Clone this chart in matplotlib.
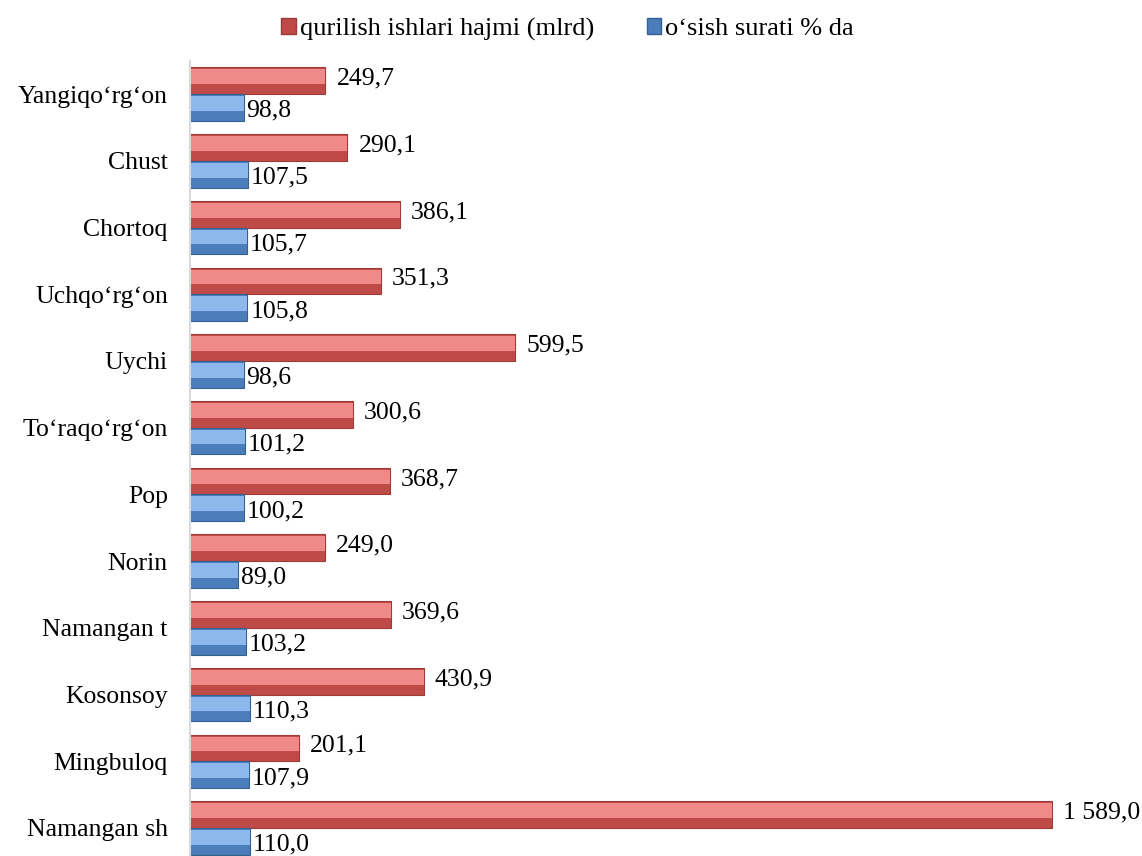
import matplotlib.pyplot as plt
from matplotlib.patches import Patch

plt.rcParams['font.family'] = ['Liberation Serif', 'DejaVu Serif']

# bottom to top, as drawn
districts = ["Namangan sh", "Mingbuloq", "Kosonsoy", "Namangan t", "Norin", "Pop",
             "To\u2018raqo\u2018rg\u2018on", "Uychi", "Uchqo\u2018rg\u2018on", "Chortoq",
             "Chust", "Yangiqo\u2018rg\u2018on"]
volume = [1589.0, 201.1, 430.9, 369.6, 249.0, 368.7, 300.6, 599.5, 351.3, 386.1, 290.1, 249.7]
growth = [110.0, 107.9, 110.3, 103.2, 89.0, 100.2, 101.2, 98.6, 105.8, 105.7, 107.5, 98.8]

red_dark, red_light = "#BE4B48", "#F08A88"
blue_dark, blue_light = "#4A7DBA", "#8DB8EC"
FS = 18.5


def fmt(v):
    s = f"{v:,.1f}"
    return s.replace(",", " ").replace(".", ",")


fig = plt.figure(figsize=(11.42, 8.56), dpi=100)
ax = fig.add_axes([0.1664, 0.0, 0.81, 0.929])

y = list(range(len(districts)))
h = 0.4
y_red = [i + 0.2 for i in y]
y_blue = [i - 0.2 for i in y]

# base bars + lighter upper part for a bevel feel
ax.barh(y_red, volume, height=h, color=red_dark, edgecolor="#9E3A38", linewidth=0.8)
ax.barh([v + 0.06 for v in y_red], volume, height=h * 0.55, color=red_light, linewidth=0)
ax.barh(y_blue, growth, height=h, color=blue_dark, edgecolor="#35608F", linewidth=0.8)
ax.barh([v + 0.06 for v in y_blue], growth, height=h * 0.55, color=blue_light, linewidth=0)

for yr, yb, v, g in zip(y_red, y_blue, volume, growth):
    ax.annotate(fmt(v), (v, yr), xytext=(8, 1.5), textcoords="offset points",
                va="center", ha="left", fontsize=FS)
    ax.annotate(fmt(g), (g, yb), xytext=(2, -2.5), textcoords="offset points",
                va="center", ha="left", fontsize=FS)

ax.set_yticks(y)
ax.set_yticklabels(districts, fontsize=FS)
ax.tick_params(axis="y", length=0, pad=16)
ax.set_xticks([])
ax.set_xlim(0, 1705)
ax.set_ylim(-0.42, 11.5)
for s in ["top", "right", "bottom"]:
    ax.spines[s].set_visible(False)
ax.spines["left"].set_color("#D9D9D9")
ax.spines["left"].set_linewidth(1.5)

handles = [Patch(facecolor=red_dark, edgecolor="#9E3A38"),
           Patch(facecolor=blue_dark, edgecolor="#35608F")]
fig.legend(handles, ["qurilish ishlari hajmi (mlrd)", "o\u2018sish surati % da"],
           loc="center", bbox_to_anchor=(0.497, 0.966), ncol=2, frameon=False,
           fontsize=19, handlelength=0.55, handleheight=0.55, handletextpad=0.15,
           columnspacing=2.0)

fig.savefig("out.png", dpi=100)
